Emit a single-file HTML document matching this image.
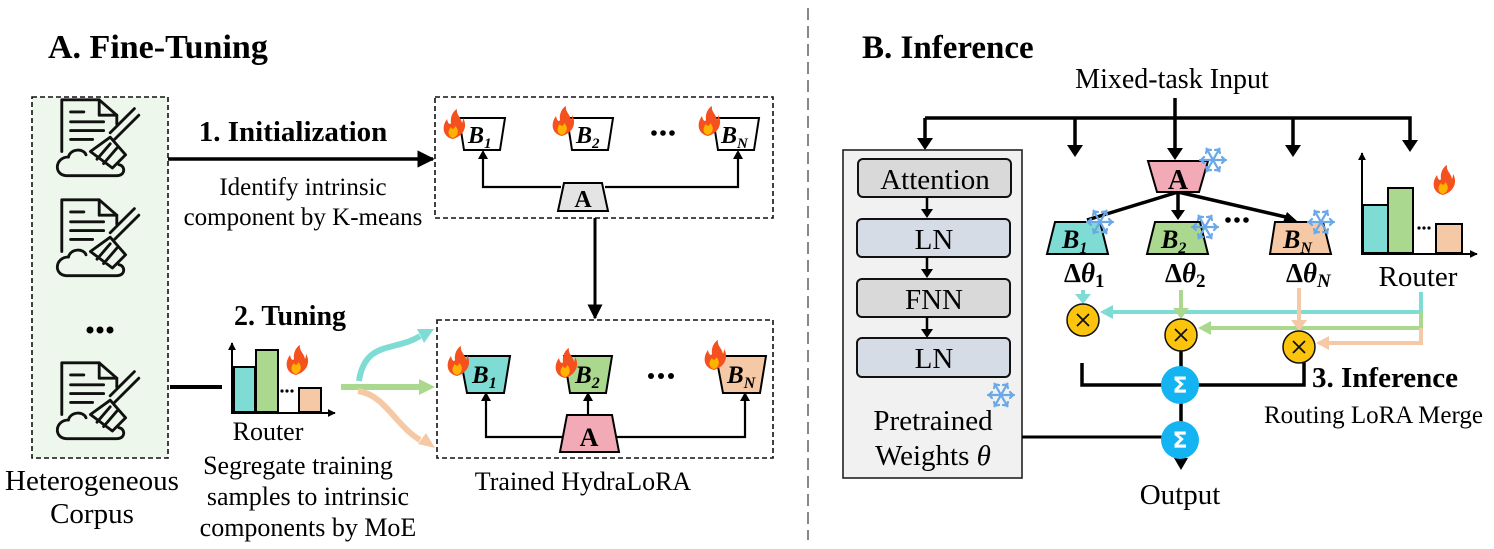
<!DOCTYPE html>
<html><head><meta charset="utf-8"><style>
html,body{margin:0;padding:0;background:#fff;}
svg{display:block;font-family:"Liberation Serif",serif;}
.b{font-weight:bold;}
</style></head><body>
<svg width="1494" height="549" viewBox="0 0 1494 549" xmlns="http://www.w3.org/2000/svg">
<defs>
<marker id="ah" viewBox="0 0 10 10" refX="9" refY="5" markerWidth="4" markerHeight="4" orient="auto-start-reverse"><path d="M0,0L10,5L0,10z" fill="#000"/></marker>
<marker id="ahs" viewBox="0 0 10 10" refX="9" refY="5" markerWidth="5" markerHeight="5" orient="auto"><path d="M0,0L10,5L0,10z" fill="#000"/></marker>
<g id="fire"><path d="M0,14 C-10,12 -12,2 -6,-6 C-5,-1 -3,0 -2,-2 C-3,-8 0,-14 4,-16 C3,-10 8,-8 9,-2 C10,-4 10,-6 10,-7 C14,-1 13,10 0,14z" fill="#f4511e"/><path d="M0,13 C-5,12 -6,6 -2,2 C-1,5 2,4 2,1 C6,4 6,11 0,13z" fill="#ffb300"/></g>
<g id="snow" stroke="#6aa8e8" stroke-width="2.2" fill="none" stroke-linecap="round"><path d="M-13,0H13M-6.5,-11.3L6.5,11.3M-6.5,11.3L6.5,-11.3"/><path d="M9,-3L12,0L9,3M-9,-3L-12,0L-9,3M2,-10L6,-10.5L7,-7M-2,10L-6,10.5L-7,7M-7,-7L-6,-10.5L-2,-10M7,7L6,10.5L2,10"/></g>
<g id="doc" stroke="#111" stroke-width="2.6" fill="none" stroke-linecap="round" stroke-linejoin="round"><path d="M-32,15V-32H2L18,-18V-10"/><path d="M2,-32V-18H18"/><path d="M-24,-21H-12M-24,-12H6M-24,-4H6M-24,4H-4"/><path d="M-26,20C-38,20 -40,36 -28,37H18C26,37 26,28 20,27"/><path d="M-26,20C-24,12 -12,12 -10,18"/><path d="M-6,15L12,2L26,18L14,30z M0,22L12,8 M6,26L18,12 M12,-2L34,-24 M16,4L38,-18"/></g>
</defs>

<!-- ===== A ===== -->
<text x="48" y="58" font-size="34" class="b">A. Fine-Tuning</text>
<rect x="32" y="97" width="136" height="361" fill="#eef7ec" stroke="#111" stroke-width="1.6" stroke-dasharray="5,3"/>
<use href="#doc" x="0" y="0" transform="translate(97,135) scale(1.1)"/>
<use href="#doc" x="0" y="0" transform="translate(97,235) scale(1.1)"/>
<circle cx="90" cy="330" r="3.5"/><circle cx="100" cy="330" r="3.5"/><circle cx="110" cy="330" r="3.5"/>
<use href="#doc" x="0" y="0" transform="translate(97,398) scale(1.1)"/>
<text x="92" y="490" font-size="29" text-anchor="middle">Heterogeneous</text>
<text x="92" y="523" font-size="29" text-anchor="middle">Corpus</text>

<line x1="168" y1="159" x2="433" y2="159" stroke="#000" stroke-width="3.5" marker-end="url(#ahs)"/>
<text x="293" y="141" font-size="29" class="b" text-anchor="middle">1. Initialization</text>
<text x="303" y="195" font-size="25" text-anchor="middle">Identify intrinsic</text>
<text x="303" y="225" font-size="25" text-anchor="middle">component by K-means</text>

<!-- box 1 -->
<rect x="435" y="97" width="338" height="121" fill="#fff" stroke="#111" stroke-width="1.6" stroke-dasharray="5,3"/>
<g stroke="#000" stroke-width="2.2" fill="none"><path d="M483,153V187H561M605,187H738V153" /></g>
<path d="M483,150l-5,9h10z M738,150l-5,9h10z"/>
<path d="M564,183H602L608,211H558z" fill="#e4e4e4" stroke="#000" stroke-width="2"/>
<text x="583" y="207" font-size="24" class="b" text-anchor="middle">A</text>
<g stroke="#000" stroke-width="2" fill="#fff">
<path d="M459,118H505L500,150H464z"/><path d="M567,118H613L608,150H572z"/><path d="M713,118H759L754,150H718z"/></g>
<g font-size="24" class="b" font-style="italic"><text x="468" y="143">B<tspan font-size="15" dy="5">1</tspan></text><text x="576" y="143">B<tspan font-size="15" dy="5">2</tspan></text><text x="721" y="143">B<tspan font-size="15" dy="5">N</tspan></text></g>
<use href="#fire" x="453" y="125"/><use href="#fire" x="562" y="122"/><use href="#fire" x="708" y="122"/>
<circle cx="654" cy="133" r="2.8"/><circle cx="663" cy="133" r="2.8"/><circle cx="672" cy="133" r="2.8"/>
<line x1="595" y1="218" x2="595" y2="318" stroke="#000" stroke-width="3" marker-end="url(#ahs)"/>

<!-- tuning -->
<text x="290" y="325" font-size="28" class="b" text-anchor="middle">2. Tuning</text>
<line x1="170" y1="387" x2="222" y2="387" stroke="#000" stroke-width="4"/>
<rect x="234" y="367" width="21" height="45" fill="#7fdcd4" stroke="#000" stroke-width="2"/>
<rect x="256" y="350" width="22" height="62" fill="#a9d88e" stroke="#000" stroke-width="2"/>
<rect x="299" y="388" width="22" height="24" fill="#f6c9a6" stroke="#000" stroke-width="2"/>
<circle cx="282" cy="391" r="1.6"/><circle cx="287" cy="391" r="1.6"/><circle cx="292" cy="391" r="1.6"/>
<line x1="232" y1="413" x2="232" y2="343" stroke="#000" stroke-width="2" marker-end="url(#ah)"/>
<line x1="231" y1="413" x2="335" y2="413" stroke="#000" stroke-width="2" marker-end="url(#ah)"/>
<use href="#fire" x="296" y="361"/>
<text x="268" y="440" font-size="26" text-anchor="middle">Router</text>
<text x="298" y="474" font-size="26" text-anchor="middle">Segregate training</text>
<text x="308" y="505" font-size="26" text-anchor="middle">samples to intrinsic</text>
<text x="308" y="536" font-size="26" text-anchor="middle">components by MoE</text>
<path d="M359,381 C365,340 395,352 420,336" stroke="#7fdcd4" stroke-width="6" fill="none"/><path d="M434,329l-17,0l7,14z" fill="#7fdcd4"/>
<path d="M341,387H420" stroke="#a9d88e" stroke-width="6"/><path d="M435,387l-16,-8v16z" fill="#a9d88e"/>
<path d="M358,391 C385,395 395,425 420,440" stroke="#f6c9a6" stroke-width="6" fill="none"/><path d="M435,448l-9,-15l-8,11z" fill="#f6c9a6"/>

<!-- box 2 -->
<rect x="437" y="320" width="336" height="138" fill="#fff" stroke="#111" stroke-width="1.6" stroke-dasharray="5,3"/>
<g stroke="#000" stroke-width="2.2" fill="none"><path d="M486,396V437H565M615,437H745V396"/><path d="M588,415V396"/></g>
<path d="M486,392l-5,9h10z M745,392l-5,9h10z M588,392l-5,9h10z"/>
<path d="M567,415H612L619,452H560z" fill="#f2aab6" stroke="#000" stroke-width="2"/>
<text x="589" y="446" font-size="26" class="b" text-anchor="middle">A</text>
<g stroke="#000" stroke-width="2">
<path d="M460,356H510L504,393H467z" fill="#7fdcd4"/>
<path d="M564,356H612L606,393H570z" fill="#a9d88e"/>
<path d="M716,356H766L760,393H723z" fill="#f6c9a6"/></g>
<g font-size="25" class="b" font-style="italic"><text x="472" y="383">B<tspan font-size="16" dy="5">1</tspan></text><text x="575" y="383">B<tspan font-size="16" dy="5">2</tspan></text><text x="727" y="383">B<tspan font-size="16" dy="5">N</tspan></text></g>
<use href="#fire" x="457" y="362"/><use href="#fire" x="565" y="364"/><use href="#fire" x="714" y="356"/>
<circle cx="651" cy="376" r="3"/><circle cx="661" cy="376" r="3"/><circle cx="671" cy="376" r="3"/>
<text x="583" y="490" font-size="26" text-anchor="middle">Trained HydraLoRA</text>

<!-- divider -->
<line x1="808" y1="8" x2="808" y2="540" stroke="#888" stroke-width="2" stroke-dasharray="12,6"/>

<!-- ===== B ===== -->
<text x="862" y="58" font-size="33" class="b">B. Inference</text>
<text x="1172" y="88" font-size="28" text-anchor="middle">Mixed-task Input</text>
<g stroke="#000" stroke-width="3.5" fill="none">
<path d="M925,118V142M925,118H1410V140M1175,98V152M1075,118V148M1293,118V148"/></g>
<path d="M925,150l-8,-12h16z M1175,160l-8,-12h16z M1075,157l-8,-12h16z M1293,157l-8,-12h16z M1410,152l-8,-12h16z"/>

<rect x="843" y="150" width="179" height="328" fill="#f1f1f1" stroke="#222" stroke-width="1.6"/>
<rect x="858" y="159" width="153" height="38" rx="5" fill="#d9d9d9" stroke="#111" stroke-width="2"/>
<rect x="857" y="219" width="153" height="38" rx="5" fill="#d6dce6" stroke="#111" stroke-width="2"/>
<rect x="857" y="279" width="153" height="38" rx="5" fill="#d9d9d9" stroke="#111" stroke-width="2"/>
<rect x="857" y="338" width="153" height="39" rx="5" fill="#d6dce6" stroke="#111" stroke-width="2"/>
<g font-size="29" text-anchor="middle"><text x="935" y="189">Attention</text><text x="934" y="249">LN</text><text x="934" y="309">FNN</text><text x="934" y="368">LN</text>
<text x="933" y="430">Pretrained</text><text x="933" y="465">Weights <tspan font-style="italic">θ</tspan></text></g>
<path d="M927,197V211M927,257V271M927,317V331" stroke="#000" stroke-width="2.5"/>
<path d="M927,218l-6,-9h12z M927,278l-6,-9h12z M927,338l-6,-9h12z"/>
<use href="#snow" x="1001" y="395"/>
<line x1="1022" y1="437" x2="1165" y2="437" stroke="#000" stroke-width="3"/>

<!-- A and B -->
<g stroke="#000" stroke-width="3.5"><path d="M1178,192L1087,220M1178,192V212M1178,192L1290,218"/></g>
<path d="M1178,220l-7,-10h14z M1297,221l-14,1l4,-10z"/>
<path d="M1148,161H1208L1199,192H1157z" fill="#f2aab6" stroke="#000" stroke-width="2"/>
<text x="1178" y="189" font-size="28" class="b" text-anchor="middle">A</text>
<use href="#snow" x="1213" y="160"/>
<g stroke="#000" stroke-width="2">
<path d="M1055,222H1100L1108,254H1047z" fill="#7fdcd4"/>
<path d="M1155,222H1200L1208,254H1147z" fill="#a9d88e"/>
<path d="M1275,222H1323L1331,254H1270z" fill="#f6c9a6"/></g>
<g font-size="26" class="b" font-style="italic"><text x="1062" y="248">B<tspan font-size="16" dy="5">1</tspan></text><text x="1161" y="248">B<tspan font-size="16" dy="5">2</tspan></text><text x="1283" y="248">B<tspan font-size="16" dy="5">N</tspan></text></g>
<use href="#snow" x="1100" y="222"/><use href="#snow" x="1205" y="227"/><use href="#snow" x="1321" y="222"/>
<circle cx="1228" cy="220" r="2.8"/><circle cx="1237" cy="220" r="2.8"/><circle cx="1246" cy="220" r="2.8"/>
<g font-size="27" class="b"><text x="1064" y="282">Δ<tspan font-style="italic">θ</tspan><tspan font-size="19" dy="5">1</tspan></text>
<text x="1165" y="282">Δ<tspan font-style="italic">θ</tspan><tspan font-size="19" dy="5">2</tspan></text>
<text x="1286" y="282">Δ<tspan font-style="italic">θ</tspan><tspan font-size="19" dy="5" font-style="italic">N</tspan></text></g>

<!-- router B -->
<rect x="1363" y="205" width="25" height="48" fill="#7fdcd4" stroke="#000" stroke-width="2"/>
<rect x="1388" y="188" width="25" height="65" fill="#a9d88e" stroke="#000" stroke-width="2"/>
<rect x="1436" y="224" width="26" height="29" fill="#f6c9a6" stroke="#000" stroke-width="2"/>
<circle cx="1419" cy="228" r="1.6"/><circle cx="1424" cy="228" r="1.6"/><circle cx="1429" cy="228" r="1.6"/>
<line x1="1362" y1="254" x2="1362" y2="153" stroke="#000" stroke-width="2" marker-end="url(#ah)"/>
<line x1="1361" y1="254" x2="1477" y2="254" stroke="#000" stroke-width="2" marker-end="url(#ah)"/>
<use href="#fire" x="1443" y="181"/>
<text x="1418" y="286" font-size="29" text-anchor="middle">Router</text>

<!-- colored routing lines -->
<path d="M1421,292V312H1110" stroke="#7fdcd4" stroke-width="4" fill="none"/><path d="M1100,312l13,-7v14z" fill="#7fdcd4"/>
<path d="M1421,312V328H1208" stroke="#a9d88e" stroke-width="4" fill="none"/><path d="M1198,328l13,-7v14z" fill="#a9d88e"/>
<path d="M1421,328V343H1326" stroke="#f6c9a6" stroke-width="4" fill="none"/><path d="M1316,343l13,-7v14z" fill="#f6c9a6"/>
<path d="M1083,290V296" stroke="#7fdcd4" stroke-width="4"/><path d="M1083,304l-8,-10h16z" fill="#7fdcd4"/>
<path d="M1181,290V309" stroke="#a9d88e" stroke-width="4"/><path d="M1181,319l-8,-11h16z" fill="#a9d88e"/>
<path d="M1299,288V320" stroke="#f6c9a6" stroke-width="4"/><path d="M1299,331l-8,-11h16z" fill="#f6c9a6"/>

<g stroke="#000" stroke-width="3.5" fill="none"><path d="M1082,363V385H1304V360M1181,350V437V460"/></g>
<path d="M1181,470l-7,-12h14z"/>
<g fill="#fcc40c" stroke="#111" stroke-width="1.5"><circle cx="1083" cy="320" r="16"/><circle cx="1181" cy="335" r="16"/><circle cx="1299" cy="347" r="16"/></g>
<g stroke="#111" stroke-width="1.8"><path d="M1077,314l12,12M1089,314l-12,12M1175,329l12,12M1187,329l-12,12M1293,341l12,12M1305,341l-12,12"/></g>
<g fill="#14b4f2"><circle cx="1180" cy="385" r="19"/><circle cx="1180" cy="440" r="19"/></g>
<g fill="#fff" font-size="22" font-family="DejaVu Sans,sans-serif" font-weight="bold" text-anchor="middle"><text x="1180" y="393">Σ</text><text x="1180" y="448">Σ</text></g>
<text x="1180" y="504" font-size="29" text-anchor="middle">Output</text>
<text x="1312" y="387" font-size="29" class="b">3. Inference</text>
<text x="1264" y="423" font-size="25">Routing LoRA Merge</text>
</svg>
</body></html>
